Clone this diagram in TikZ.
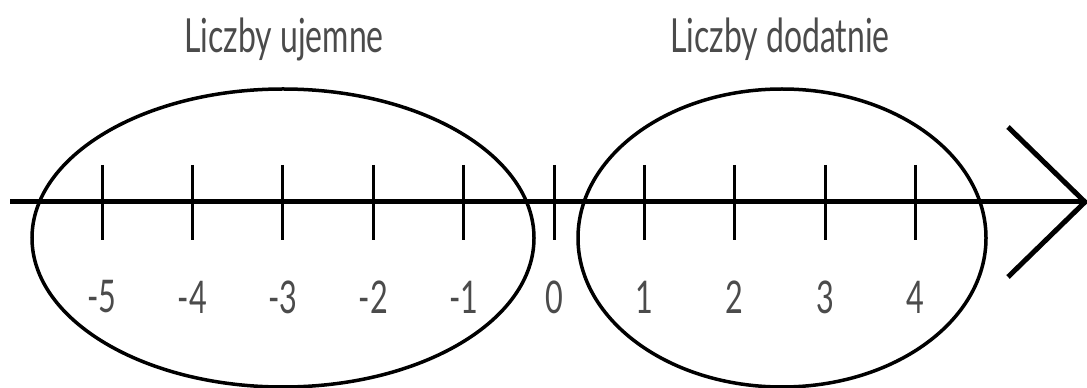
\documentclass[tikz,border=0pt]{standalone}
\usepackage{fontspec}
\setmainfont{Lato}[FakeStretch=0.68]
\usetikzlibrary{positioning}
\definecolor{labelgray}{RGB}{75,75,75}

\begin{document}
\begin{tikzpicture}[x=1pt, y=1pt,
    axisline/.style={line width=5pt},
    tickline/.style={line width=3pt},
    groupring/.style={line width=3.5pt},
    ticklabel/.style={font=\fontsize{45}{45}\selectfont, text=labelgray, inner sep=0pt},
    grouptitle/.style={font=\fontsize{47}{47}\selectfont, text=labelgray, inner sep=0pt, anchor=base}]
\useasboundingbox (0,0) rectangle (1087,388);

% Groups
\draw[groupring] (283,150) ellipse (251 and 149);
\draw[groupring] (782,150) ellipse (204 and 149);

% Axis
\coordinate (start) at (10,186);
\coordinate (tip) at (1085,186);
\coordinate (wingup) at (1008,261);
\coordinate (winglow) at (1008,111);
\draw[axisline] (start) -- (tip);
\draw[axisline] (wingup) -- (tip) -- (winglow);

% Ticks and numbers
\foreach \n [count=\i] in {-5,...,4} {
    \pgfmathsetmacro{\xpos}{554+90.4*\n}
    \draw[tickline] (\xpos,223) -- (\xpos,148);
    \node[ticklabel] (num\i) at (\xpos,91) {\n};
}

% Titles
\node[grouptitle] (negtitle) at (284,335) {Liczby ujemne};
\node[grouptitle] (postitle) at (780,335) {Liczby dodatnie};
\end{tikzpicture}
\end{document}
